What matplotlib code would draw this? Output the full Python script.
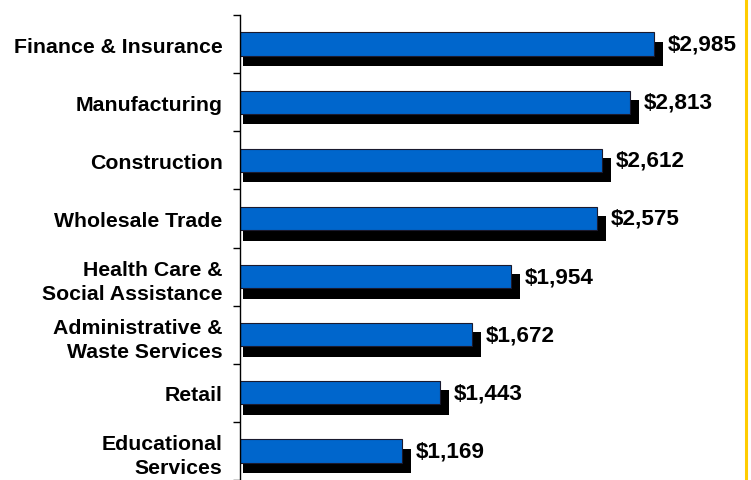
import matplotlib
matplotlib.use("Agg")
import matplotlib.pyplot as plt
from matplotlib.lines import Line2D
import numpy as np

plt.rcParams['font.family'] = ['Liberation Sans', 'DejaVu Sans']

# industries, top to bottom
categories = ["Finance & Insurance", "Manufacturing", "Construction",
              "Wholesale Trade", "Health Care &\nSocial Assistance",
              "Administrative &\nWaste Services", "Retail",
              "Educational\nServices"]
values = [2985, 2813, 2612, 2575, 1954, 1672, 1443, 1169]
value_labels = ["$2,985", "$2,813", "$2,612", "$2,575",
                "$1,954", "$1,672", "$1,443", "$1,169"]

fig = plt.figure(figsize=(7.51, 4.81), dpi=100)
ax = fig.add_axes([240 / 751, 0.0, 505 / 751, 465 / 481])

y = np.arange(len(categories))
vals = np.array(values)

# drop shadow behind each bar
ax.barh(y + 0.17, vals + 40, left=22, height=0.42, color="black", zorder=1)
# the bars
ax.barh(y, vals, height=0.4, color="#0066CC", edgecolor="#1a1a2e",
        linewidth=0.8, zorder=2)

for yi, v, lab in zip(y, vals, value_labels):
    ax.text(v + 100, yi, lab, va="center", ha="left",
            fontsize=16.2, fontweight="bold", color="black")

ax.set_xlim(0, 3641)
ax.set_ylim(len(categories) - 0.5, -0.5)

# category labels
ax.set_yticks(y)
ax.set_yticklabels(categories, fontsize=15.3, fontweight="bold",
                   linespacing=1.33)
ax.tick_params(axis="y", which="major", length=0, pad=12.5)
ax.set_yticks(np.arange(len(categories) + 1) - 0.5, minor=True)
ax.tick_params(axis="y", which="minor", length=5, width=1, direction="out")
ax.set_xticks([])

for s in ["top", "right", "bottom"]:
    ax.spines[s].set_visible(False)
ax.spines["left"].set_linewidth(1)

# yellow frame line on the right edge
fig.add_artist(Line2D([746 / 751, 746 / 751], [0, 1], color="#FFCC00",
                      linewidth=2.2, transform=fig.transFigure))

fig.savefig("out.png", dpi=100)
